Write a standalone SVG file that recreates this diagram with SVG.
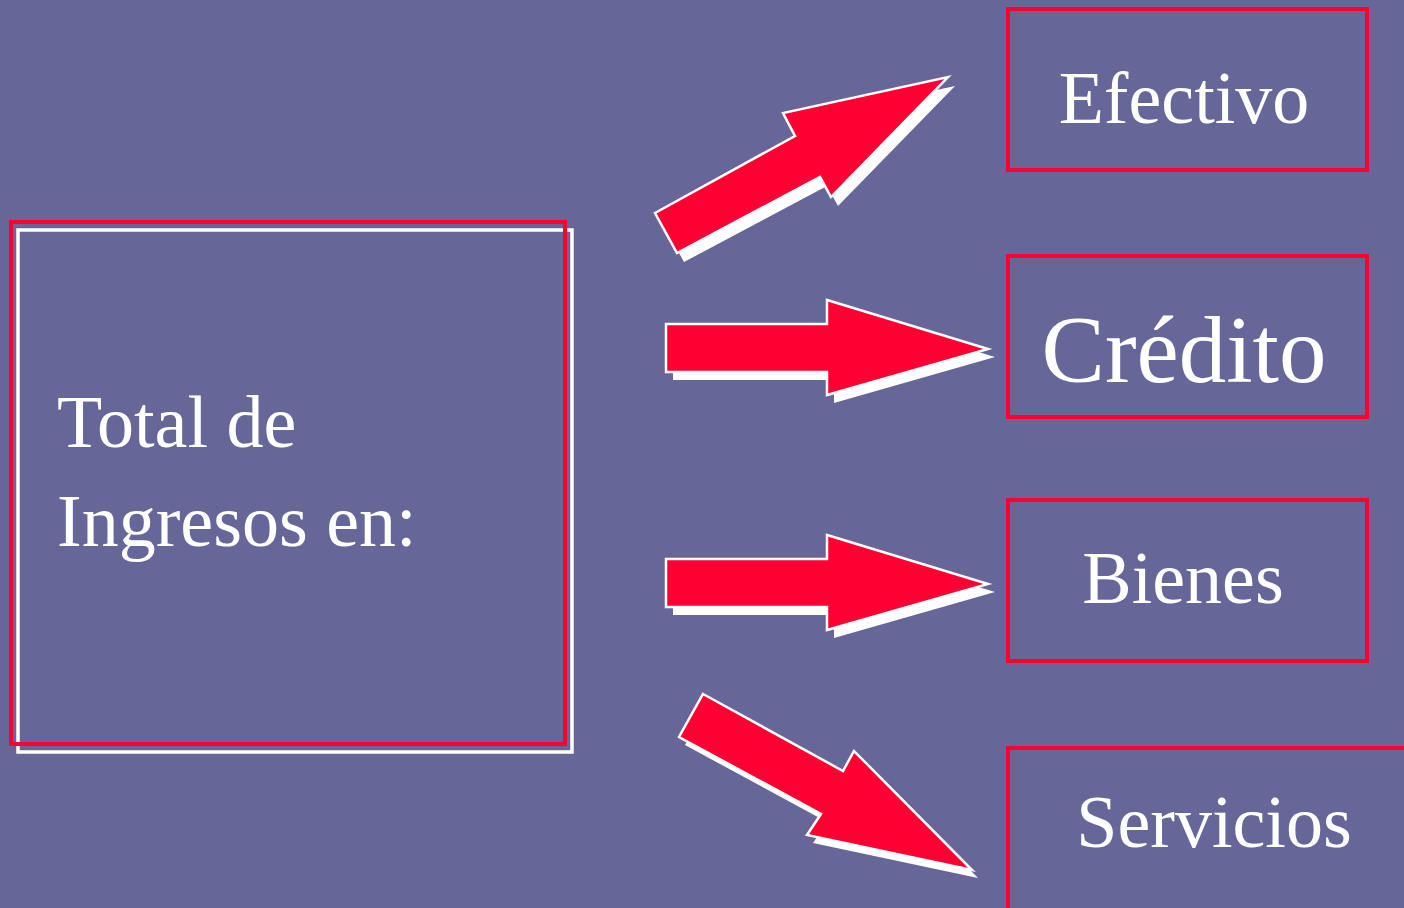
<svg xmlns="http://www.w3.org/2000/svg" width="1404" height="908" viewBox="0 0 1404 908">
<style>
.lbl{font-family:"Liberation Serif","Times New Roman",serif;fill:#ffffff}
.box{fill:none;stroke:#ff0033;stroke-width:4}
.arr{fill:#ff0033;stroke:#ffffff;stroke-width:2.5;stroke-linejoin:miter}
.sh{fill:#ffffff}
</style>
<defs>
<polygon id="harrow" points="666,324 827,324 827,300 988,349 827,395 827,372 666,372"/>
</defs>
<rect width="1404" height="908" fill="#666699"/>
<g id="connectors">
<g id="arrow-efectivo">
<polygon class="sh" transform="translate(7,9)" points="655,213 795,136 783,113 948,77 831,197 820,177 677,253"/>
<polygon class="arr" points="655,213 795,136 783,113 948,77 831,197 820,177 677,253"/>
</g>
<g id="arrow-credito">
<use href="#harrow" class="sh" transform="translate(7,8)"/>
<use href="#harrow" class="arr"/>
</g>
<g id="arrow-bienes">
<use href="#harrow" class="sh" transform="translate(7,243)"/>
<use href="#harrow" class="arr" transform="translate(0,235)"/>
</g>
<g id="arrow-servicios">
<polygon class="sh" transform="translate(6,8)" points="703,694 843,771 854,751 972,870 807,835 821,814 679,737"/>
<polygon class="arr" points="703,694 843,771 854,751 972,870 807,835 821,814 679,737"/>
</g>
</g>
<g id="total">
<rect x="18" y="230" width="554" height="522" fill="none" stroke="#ffffff" stroke-width="3.5"/>
<rect x="11" y="222" width="554" height="522" class="box"/>
<text class="lbl" x="57" y="447" font-size="74">Total de</text>
<text class="lbl" x="57" y="546" font-size="74">Ingresos en:</text>
</g>
<g id="efectivo">
<rect x="1008" y="9" width="359" height="161" class="box"/>
<text class="lbl" x="1184" y="123" font-size="74" text-anchor="middle">Efectivo</text>
</g>
<g id="credito">
<rect x="1008" y="256" width="359" height="161" class="box"/>
<text class="lbl" x="1184" y="382" font-size="95" text-anchor="middle">Crédito</text>
</g>
<g id="bienes">
<rect x="1008" y="500" width="359" height="161" class="box"/>
<text class="lbl" x="1183" y="603" font-size="74" text-anchor="middle">Bienes</text>
</g>
<g id="servicios">
<rect x="1008" y="748" width="420" height="180" class="box"/>
<text class="lbl" x="1214" y="847" font-size="74" text-anchor="middle">Servicios</text>
</g>
</svg>
